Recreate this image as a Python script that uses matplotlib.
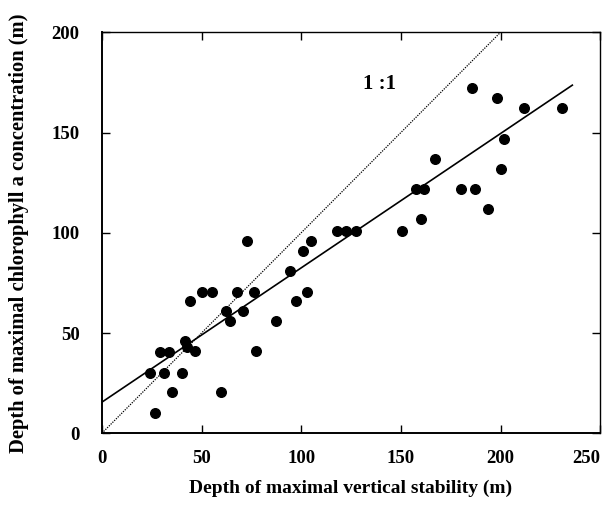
import matplotlib
matplotlib.use("Agg")
import numpy as np
import matplotlib.pyplot as plt

plt.rcParams['font.family'] = ['Liberation Serif', 'DejaVu Serif']
plt.rcParams['font.weight'] = 'bold'

# Depth of maximal vertical stability (m)
stability_depth = [24, 26.5, 29, 31, 33.5, 35, 40, 41.5, 42.5, 44.3, 46.5, 50, 55,
                   60, 62.3, 64.3, 67.7, 71, 73, 76.2, 77.3, 87.5, 94.3, 97.3,
                   101, 102.7, 104.7, 117.7, 122.3, 127.7, 150.7, 160, 157.7,
                   161.5, 167, 180, 187, 193.7, 200, 201.5, 185.5, 198, 212, 231]
# Depth of maximal chlorophyll a concentration (m)
chl_depth = [30, 10, 40.5, 30, 40.5, 20.5, 30, 46, 43, 66, 41, 70.5, 70.5,
             20.5, 61, 56, 70.5, 61, 96, 70.5, 41, 56, 81, 66,
             91, 70.5, 96, 101, 101, 101, 101, 107, 122,
             122, 137, 122, 122, 112, 132, 147, 172, 167, 162, 162]

# regression line
fit_intercept = 15.5
fit_slope = 0.67
fit_xmax = 236

fig = plt.figure(figsize=(6.1, 5.29), dpi=100)
ax = fig.add_axes([0.167, 0.181, 0.817, 0.758])

ax.scatter(stability_depth, chl_depth, s=48, color='black', zorder=3)

xf = np.array([0, fit_xmax])
ax.plot(xf, fit_intercept + fit_slope * xf, color='black', lw=1.2)
ax.plot([0, 200], [0, 200], color='black', lw=0.9, linestyle=(0, (1, 1)))

ax.text(131, 174, '1 :1', fontsize=15, fontweight='bold', ha='left', va='center')

ax.set_xlim(0, 250)
ax.set_ylim(0, 200)
ax.set_xticks([0, 50, 100, 150, 200, 250])
ax.set_yticks([0, 50, 100, 150, 200])
ax.tick_params(direction='in', top=True, right=True, length=6, width=1,
               labelsize=13.5)
ax.tick_params(axis='y', pad=16)
ax.tick_params(axis='x', pad=12)
ax.get_xticklabels()[-1].set_ha('right')
for sp in ax.spines.values():
    sp.set_linewidth(1.0)
ax.spines['left'].set_linewidth(1.4)
ax.spines['bottom'].set_linewidth(1.4)

ax.set_xlabel('Depth of maximal vertical stability (m)', fontsize=14,
              fontweight='bold', labelpad=9)
ax.set_ylabel('Depth of maximal chlorophyll a concentration (m)', fontsize=14.8,
              fontweight='bold', labelpad=16)

fig.savefig('out.png', dpi=100)
